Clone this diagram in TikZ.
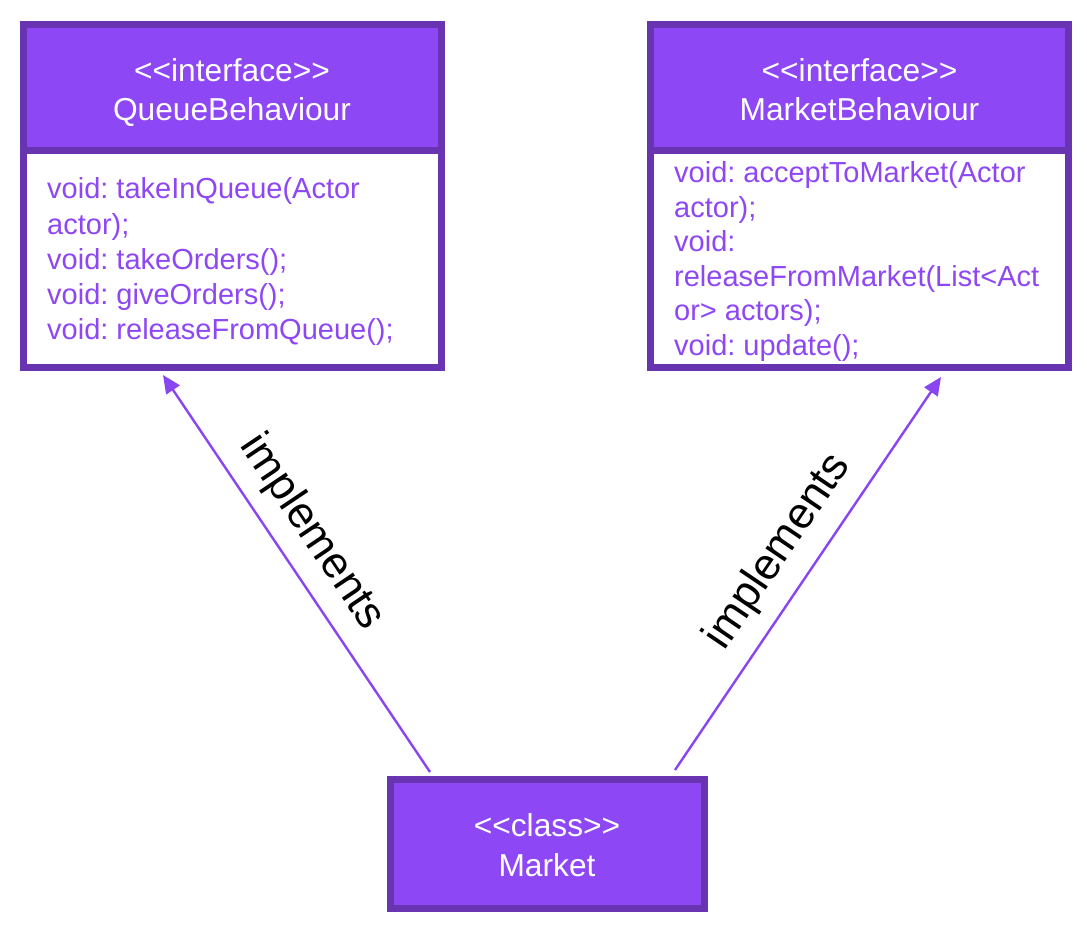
\documentclass[tikz,border=0pt]{standalone}
\usepackage{fontspec}
\setmainfont{Liberation Sans}[Ligatures=TeXOff]
\usetikzlibrary{arrows.meta,calc}
\definecolor{pfill}{HTML}{8E47F5}
\definecolor{pborder}{HTML}{6834B2}
\definecolor{ptext}{HTML}{8E47F5}
\definecolor{pline}{HTML}{8A45F2}
\tikzset{
  hdrbox/.style={draw=pborder, fill=pfill, line width=7pt, inner sep=0pt, outer sep=0pt, anchor=north west},
  bodybox/.style={draw=pborder, fill=white, line width=7pt, inner sep=0pt, outer sep=0pt, anchor=north west},
  htxt/.style={text=white, inner sep=0pt, anchor=base, font=\fontsize{31.7}{39.7}\selectfont},
  btxt/.style={text=ptext, inner sep=0pt, anchor=north west, align=left},
  impl/.style={draw=pline, line width=2.4pt, -{Triangle[length=18pt,width=16pt]}},
  lbl/.style={text=black, inner sep=0pt, font=\fontsize{44}{50}\selectfont, sloped, anchor=center}
}
\begin{document}
\frenchspacing
\begin{tikzpicture}[x=1pt,y=-1pt]
\useasboundingbox (0,0) rectangle (1087,927);
% QueueBehaviour
\node[bodybox, minimum width=417.5pt, minimum height=217pt] (qbody) at (23.5,150) {};
\node[hdrbox, minimum width=417.5pt, minimum height=125.5pt] (qhead) at (23.5,24.5) {};
\node[htxt] (qst) at (232,81) {<<interface>>};
\node[htxt] (qnm) at (232,120.7) {QueueBehaviour};
\node[btxt, font=\fontsize{29}{35.3}\selectfont] (qops) at (47,177.5) {void: takeInQueue(Actor\\actor);\\void: takeOrders();\\void: giveOrders();\\void: releaseFromQueue();};
% MarketBehaviour
\node[bodybox, minimum width=418pt, minimum height=217pt] (mbody) at (650.5,150) {};
\node[hdrbox, minimum width=418pt, minimum height=125.5pt] (mhead) at (650.5,24.5) {};
\node[htxt] (mst) at (859.5,81) {<<interface>>};
\node[htxt] (mnm) at (859.5,120.7) {MarketBehaviour};
\node[btxt, font=\fontsize{29}{34.5}\selectfont] (mops) at (674,161.5) {void: acceptToMarket(Actor\\actor);\\void:\\releaseFromMarket(List<Act\\or> actors);\\void: update();};
% Market
\node[hdrbox, minimum width=314pt, minimum height=129pt] (market) at (390,779) {};
\node[htxt] (cst) at (547,836) {<<class>>};
\node[htxt] (cnm) at (547,876) {Market};
% connectors
\coordinate (mkL) at ($(market.north west)+(40,-7)$);
\coordinate (mkR) at ($(market.north west)+(285,-9)$);
\coordinate (qtip) at ($(qbody.south west)+(139.5,8)$);
\coordinate (mtip) at ($(mbody.south west)+(290.5,10)$);
\draw[impl] (mkL) -- (qtip) node[lbl, pos=0.554, yshift=35.5pt] (l1) {implements};
\draw[impl] (mkR) -- (mtip) node[lbl, pos=0.503, yshift=36.5pt] (l2) {implements};
\end{tikzpicture}
\end{document}
